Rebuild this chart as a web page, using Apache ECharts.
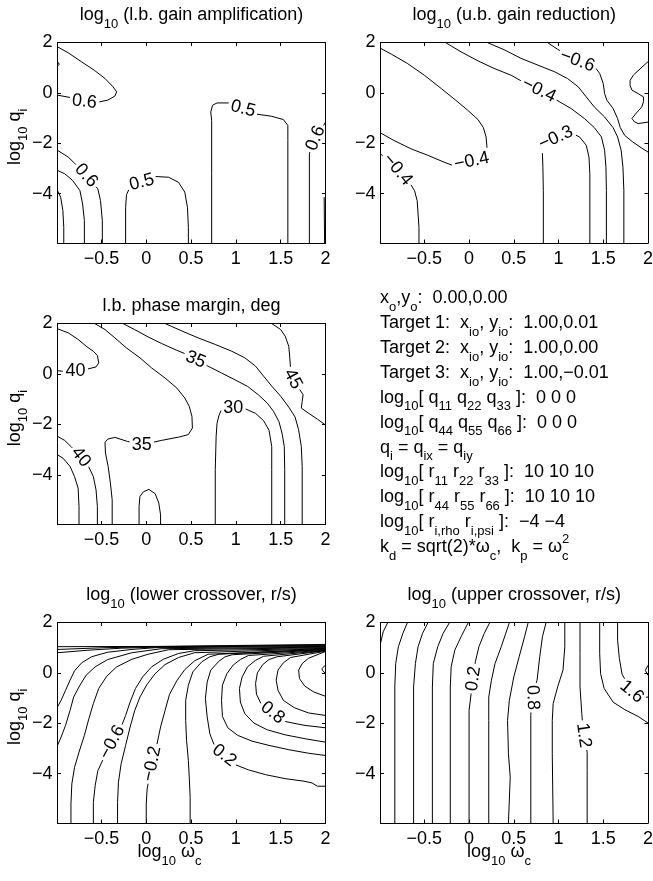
<!DOCTYPE html>
<html><head><meta charset="utf-8">
<script src="https://cdn.jsdelivr.net/npm/echarts@6/dist/echarts.min.js"></script>
<style>html,body{margin:0;padding:0;background:#fff}#c{width:653px;height:881px}</style>
</head><body><div id="c"></div>
<script>
// ---------------- data ----------------
const xTicks = [-0.5, 0, 0.5, 1, 1.5, 2];
const yTicks = [-4, -2, 0, 2];
const xRange = [-0.99, 2];
const yRange = [-5.96, 2];

// log10 (l.b. gain amplification)
const ampLines = [
  [[-0.99,1.83],[-0.87,1.59],[-0.72,1.23],[-0.58,0.90],[-0.46,0.57],[-0.37,0.24],[-0.33,0.04],[-0.35,-0.13],[-0.43,-0.29],[-0.54,-0.37],[-0.69,-0.36],[-0.84,-0.19],[-0.99,-0.09]],
  [[-0.99,-2.28],[-0.87,-2.55],[-0.80,-2.79],[-0.67,-3.28],[-0.54,-3.81],[-0.51,-4.28],[-0.49,-5.07],[-0.49,-5.96]],
  [[-0.99,-3.08],[-0.91,-3.21],[-0.82,-3.48],[-0.74,-3.88],[-0.71,-4.41],[-0.69,-5.07],[-0.69,-5.96]],
  [[-0.99,-3.88],[-0.955,-4.14],[-0.93,-4.67],[-0.92,-5.34],[-0.92,-5.96]],
  [[-0.23,-5.96],[-0.23,-4.54],[-0.22,-4.04],[-0.19,-3.81],[-0.06,-3.55],[0.10,-3.32],[0.25,-3.35],[0.36,-3.55],[0.43,-3.94],[0.46,-4.54],[0.47,-5.34],[0.47,-5.96]],
  [[0.73,-5.96],[0.73,-3.21],[0.73,-1.09],[0.72,-0.76],[0.74,-0.49],[0.79,-0.40],[0.92,-0.40],[1.08,-0.66],[1.24,-0.85],[1.40,-0.93],[1.53,-1.06],[1.58,-1.29],[1.58,-1.89],[1.58,-5.96]],
  [[1.82,-5.96],[1.82,-2.42],[1.83,-2.30],[1.89,-1.82],[1.98,-1.29],[2.0,-1.16]],
  [[1.985,-4.14],[1.99,-5.96]],
  [[-0.99,1.24],[-0.97,1.14],[-0.99,1.06]]
];
const ampLabels = [
  [-0.69,-0.35,'0.6',-6], [-0.67,-3.28,'0.6',-48], [-0.05,-3.55,'0.5',15],
  [1.08,-0.63,'0.5',-14], [1.89,-1.80,'0.6',68]
];

// log10 (u.b. gain reduction)
const redLines = [
  [[-0.99,1.77],[-0.87,1.54],[-0.69,1.17],[-0.50,0.70],[-0.31,0.17],[-0.15,-0.29],[-0.015,-0.69],[0.10,-1.06],[0.16,-1.38],[0.19,-1.75],[0.20,-2.15],[0.20,-2.48],[0.10,-2.62],[-0.05,-2.79],[-0.16,-2.91],[-0.28,-2.75],[-0.46,-2.48],[-0.65,-2.22],[-0.84,-1.89],[-0.99,-1.59]],
  [[-0.99,-2.42],[-0.94,-2.58],[-0.80,-3.05],[-0.66,-3.59],[-0.61,-3.88],[-0.58,-4.28],[-0.57,-4.81],[-0.56,-5.34],[-0.56,-5.96]],
  [[0.83,-5.96],[0.83,-3.88],[0.825,-2.95],[0.82,-2.42],[0.81,-2.15],[0.97,-1.79],[1.14,-1.59],[1.235,-1.75],[1.31,-2.08],[1.34,-2.55],[1.35,-3.21],[1.35,-5.96]],
  [[-0.26,1.99],[-0.09,1.63],[0.10,1.27],[0.28,0.97],[0.47,0.70],[0.58,0.48],[0.78,0.11],[0.97,-0.27],[1.14,-0.62],[1.29,-1.02],[1.40,-1.38],[1.48,-1.75],[1.515,-2.28],[1.53,-2.95],[1.535,-3.88],[1.535,-5.96]],
  [[0.21,1.99],[0.40,1.70],[0.58,1.37],[0.77,1.10],[0.955,0.84],[1.10,0.57],[1.22,0.24],[1.31,-0.16],[1.40,-0.56],[1.515,-0.96],[1.61,-1.38],[1.66,-1.75],[1.70,-2.28],[1.72,-2.95],[1.73,-3.88],[1.73,-5.96]],
  [[0.88,1.99],[0.99,1.73],[1.21,1.27],[1.40,1.06],[1.46,0.77],[1.50,0.37],[1.515,-0.03],[1.54,-0.29],[1.61,-0.62],[1.66,-1.02],[1.69,-1.38],[1.74,-1.69],[1.83,-1.95],[1.925,-2.18],[2.0,-2.35]],
  [[2.0,1.24],[1.92,0.98],[1.84,0.72],[1.80,0.50],[1.80,0.30],[1.82,0.11],[1.89,-0.03],[1.95,-0.16],[1.95,-0.35],[1.93,-0.56],[1.87,-0.80],[1.82,-1.02],[1.85,-1.15],[1.89,-1.22],[2.0,-1.16]]
];
const redLabels = [
  [0.03,-2.71,'\u22120.4',12], [-0.80,-3.05,'\u22120.4',-50], [0.97,-1.79,'\u22120.3',24],
  [0.78,0.11,'\u22120.4',-26], [1.21,1.27,'\u22120.6',-20]
];

// l.b. phase margin, deg
const pmLines = [
  [[-0.99,1.79],[-0.87,1.63],[-0.76,1.37],[-0.67,1.10],[-0.59,0.90],[-0.545,0.73],[-0.53,0.44],[-0.56,0.28],[-0.65,0.20],[-0.79,0.11],[-0.93,0.11],[-0.99,0.13]],
  [[-0.575,2.0],[-0.46,1.76],[-0.35,1.43],[-0.22,1.03],[-0.07,0.64],[0.06,0.24],[0.21,-0.16],[0.34,-0.55],[0.43,-0.95],[0.48,-1.28],[0.51,-1.68],[0.515,-2.14],[0.47,-2.40],[0.36,-2.50],[0.17,-2.63],[-0.05,-2.80],[-0.21,-2.67],[-0.35,-2.51],[-0.43,-2.58],[-0.46,-2.71],[-0.455,-3.13],[-0.425,-3.66],[-0.40,-4.32],[-0.38,-4.98],[-0.38,-5.96]],
  [[-0.99,-2.47],[-0.91,-2.63],[-0.84,-2.87],[-0.73,-3.29],[-0.63,-3.73],[-0.59,-4.06],[-0.56,-4.59],[-0.545,-5.25],[-0.545,-5.96]],
  [[-0.99,-3.20],[-0.93,-3.33],[-0.85,-3.66],[-0.80,-4.06],[-0.76,-4.52],[-0.75,-5.25],[-0.75,-5.96]],
  [[-0.08,-5.96],[-0.08,-5.25],[-0.07,-4.85],[-0.03,-4.66],[0.03,-4.57],[0.10,-4.74],[0.14,-5.11],[0.16,-5.58],[0.16,-5.96]],
  [[-0.26,2.0],[-0.13,1.76],[0.02,1.47],[0.17,1.21],[0.34,0.94],[0.43,0.81],[0.55,0.57],[0.69,0.31],[0.84,0.04],[0.99,-0.23],[1.13,-0.49],[1.25,-0.82],[1.35,-1.15],[1.42,-1.48],[1.48,-1.88],[1.515,-2.34],[1.54,-2.87],[1.545,-3.79],[1.545,-5.96]],
  [[0.21,2.0],[0.40,1.70],[0.58,1.43],[0.77,1.17],[0.955,0.90],[1.10,0.64],[1.22,0.31],[1.31,-0.09],[1.40,-0.48],[1.50,-0.88],[1.59,-1.31],[1.66,-1.70],[1.70,-2.21],[1.73,-2.87],[1.74,-3.66],[1.74,-5.96]],
  [[1.40,2.0],[1.50,1.76],[1.55,1.50],[1.59,1.10],[1.60,0.71],[1.61,0.24],[1.63,-0.20],[1.71,-0.60],[1.75,-0.82],[1.74,-1.09],[1.73,-1.35],[1.81,-1.55],[1.91,-1.79],[2.0,-2.02]],
  [[0.77,-5.96],[0.77,-3.79],[0.78,-2.47],[0.79,-1.95],[0.81,-1.66],[0.84,-1.40],[0.97,-1.32],[1.10,-1.37],[1.22,-1.56],[1.31,-1.85],[1.37,-2.23],[1.40,-2.87],[1.40,-3.79],[1.40,-5.96]]
];
const pmLabels = [
  [-0.79,0.11,'40',0], [-0.05,-2.80,'35',0], [-0.73,-3.29,'40',-52],
  [0.55,0.57,'35',-22], [1.635,-0.20,'45',-62], [0.97,-1.33,'30',0]
];

// log10 (lower crossover, r/s)
const loLines = [
  [[-0.99,1.04],[0.10,1.05],[2.0,1.13]],
  [[-0.99,0.93],[-0.46,1.00],[0.10,1.04],[2.0,1.10]],
  [[-0.99,0.80],[-0.65,0.90],[-0.28,0.98],[0.10,1.02],[2.0,1.08]],
  [[-0.99,-1.35],[-0.95,-1.09],[-0.90,-0.69],[-0.85,-0.29],[-0.80,0.08],[-0.72,0.40],[-0.61,0.64],[-0.43,0.82],[-0.16,0.93],[0.10,1.00],[2.0,1.05]],
  [[-0.99,-2.88],[-0.95,-2.55],[-0.90,-2.08],[-0.85,-1.49],[-0.81,-0.96],[-0.74,-0.49],[-0.67,-0.09],[-0.57,0.24],[-0.43,0.53],[-0.16,0.80],[0.17,0.96],[2.0,1.02]],
  [[-0.84,-5.96],[-0.84,-5.21],[-0.83,-4.41],[-0.80,-3.75],[-0.75,-3.15],[-0.69,-2.48],[-0.64,-1.82],[-0.59,-1.22],[-0.53,-0.62],[-0.44,-0.13],[-0.33,0.24],[-0.16,0.54],[0.02,0.74],[0.25,0.92],[2.0,1.00]],
  [[-0.59,-5.96],[-0.59,-5.14],[-0.57,-4.48],[-0.54,-3.88],[-0.46,-3.28],[-0.37,-2.71],[-0.28,-2.15],[-0.23,-1.69],[-0.18,-1.16],[-0.12,-0.62],[-0.04,-0.16],[0.06,0.24],[0.19,0.54],[0.36,0.77],[0.54,0.88],[2.0,0.97]],
  [[-0.32,-5.96],[-0.32,-5.14],[-0.31,-4.34],[-0.28,-3.61],[-0.23,-2.88],[-0.18,-2.15],[-0.13,-1.51],[-0.07,-0.96],[0.01,-0.45],[0.10,-0.03],[0.21,0.33],[0.36,0.61],[0.54,0.80],[2.0,0.96]],
  [[0.0,-5.96],[0.0,-5.21],[0.01,-4.61],[0.04,-4.01],[0.07,-3.48],[0.12,-2.82],[0.16,-2.15],[0.21,-1.49],[0.26,-0.85],[0.34,-0.32],[0.43,0.13],[0.54,0.48],[0.69,0.74],[2.0,0.94]],
  [[0.49,-5.96],[0.49,-4.94],[0.48,-4.14],[0.47,-3.48],[0.45,-2.68],[0.44,-1.89],[0.44,-1.09],[0.47,-0.49],[0.52,0.04],[0.62,0.44],[0.71,0.64],[0.81,0.74],[2.0,0.93]],
  [[2.0,-4.50],[1.91,-4.50],[1.85,-4.37],[1.76,-4.30],[1.55,-4.20],[1.33,-4.04],[1.14,-3.85],[0.99,-3.64],[0.76,-2.88],[0.71,-2.42],[0.68,-1.75],[0.66,-1.02],[0.68,-0.36],[0.72,0.11],[0.81,0.46],[0.88,0.64],[0.96,0.72],[2.0,0.92]],
  [[2.0,-3.28],[1.81,-3.19],[1.59,-3.05],[1.37,-2.88],[1.18,-2.71],[1.02,-2.48],[0.91,-2.18],[0.85,-1.73],[0.84,-1.09],[0.85,-0.49],[0.90,-0.03],[0.97,0.31],[1.05,0.53],[1.14,0.69],[2.0,0.90]],
  [[2.0,-2.75],[1.78,-2.62],[1.55,-2.46],[1.35,-2.26],[1.20,-1.99],[1.10,-1.62],[1.05,-1.16],[1.04,-0.62],[1.07,-0.16],[1.13,0.24],[1.22,0.50],[1.31,0.66],[2.0,0.89]],
  [[2.0,-2.18],[1.76,-2.08],[1.55,-1.93],[1.28,-1.22],[1.23,-0.85],[1.22,-0.42],[1.24,0.0],[1.30,0.33],[1.37,0.53],[1.46,0.64],[2.0,0.88]],
  [[2.0,-1.69],[1.81,-1.59],[1.65,-1.38],[1.53,-1.09],[1.47,-0.69],[1.45,-0.29],[1.47,0.11],[1.53,0.40],[1.61,0.61],[2.0,0.86]],
  [[2.0,-0.93],[1.87,-0.76],[1.77,-0.53],[1.71,-0.23],[1.70,0.11],[1.74,0.37],[1.81,0.58],[2.0,0.85]],
  [[2.0,0.31],[1.96,0.17],[1.97,0.08],[2.0,-0.03]]
];
const loLabels = [
  [-0.38,-2.75,'\u22120.6',62], [0.065,-3.61,'\u22120.2',78],
  [0.87,-3.28,'0.2',-38], [1.41,-1.58,'0.8',-38]
];

// log10 (upper crossover, r/s)
const hiLines = [
  [[-0.91,1.99],[-0.96,1.63],[-0.99,1.17]],
  [[-0.69,1.99],[-0.74,1.57],[-0.79,1.04],[-0.82,0.37],[-0.83,-0.56],[-0.83,-5.96]],
  [[-0.46,1.99],[-0.52,1.57],[-0.57,1.04],[-0.60,0.37],[-0.62,-0.56],[-0.62,-5.96]],
  [[-0.22,1.99],[-0.29,1.57],[-0.35,1.04],[-0.40,0.37],[-0.41,-0.56],[-0.41,-5.96]],
  [[-0.01,1.99],[-0.09,1.43],[-0.16,0.90],[-0.20,0.24],[-0.21,-0.56],[-0.21,-5.96]],
  [[0.23,1.99],[0.17,1.57],[0.11,1.04],[0.07,0.44],[0.05,-0.23],[0.02,-0.89],[0.0,-1.49],[0.0,-2.15],[0.0,-5.96]],
  [[0.45,1.99],[0.41,1.57],[0.36,1.04],[0.29,0.37],[0.25,-0.29],[0.22,-0.96],[0.22,-1.89],[0.22,-5.96]],
  [[0.66,1.99],[0.62,1.43],[0.56,0.64],[0.50,-0.16],[0.45,-1.09],[0.43,-1.89],[0.44,-3.21],[0.46,-4.14],[0.44,-5.96]],
  [[0.86,1.99],[0.82,1.43],[0.79,0.64],[0.76,-0.29],[0.70,-0.98],[0.69,-1.69],[0.69,-5.96]],
  [[1.07,1.99],[1.07,1.04],[1.05,0.11],[0.99,-0.56],[0.94,-1.22],[0.93,-1.89],[0.93,-3.21],[0.94,-5.96]],
  [[1.24,1.99],[1.24,0.77],[1.24,-0.56],[1.26,-1.62],[1.28,-2.48],[1.32,-3.15],[1.32,-3.88],[1.32,-5.96]],
  [[1.46,1.99],[1.46,0.77],[1.47,-0.03],[1.51,-0.62],[1.61,-1.16],[1.74,-1.46],[1.89,-1.73],[2.0,-1.99]],
  [[1.66,1.99],[1.66,1.30],[1.68,0.57],[1.71,-0.05],[1.82,-0.76],[1.94,-0.98],[2.0,-0.96]],
  [[2.0,0.30],[1.97,0.10],[2.0,-0.10]]
];
const hiLabels = [
  [0.05,-0.23,'0.2',82], [0.71,-0.98,'0.8',-88], [1.28,-2.48,'1.2',-82], [1.82,-0.75,'1.6',-40]
];

// texts
const titles = ['log_{10} (l.b. gain amplification)', 'log_{10} (u.b. gain reduction)', 'l.b. phase margin, deg', 'log_{10} (lower crossover, r/s)', 'log_{10} (upper crossover, r/s)'];
const yName = 'log_{10} q_{i}';
const xName = 'log_{10} \u03c9_{c}';
const infoLines = [
  'x_{o},y_{o}:  0.00,0.00',
  'Target 1:  x_{io}, y_{io}:  1.00,0.01',
  'Target 2:  x_{io}, y_{io}:  1.00,0.00',
  'Target 3:  x_{io}, y_{io}:  1.00,\u22120.01',
  'log_{10}[ q_{11} q_{22} q_{33} ]:  0 0 0',
  'log_{10}[ q_{44} q_{55} q_{66} ]:  0 0 0',
  'q_{i} = q_{ix} = q_{iy}',
  'log_{10}[ r_{11} r_{22} r_{33} ]:  10 10 10',
  'log_{10}[ r_{44} r_{55} r_{66} ]:  10 10 10',
  'log_{10}[ r_{i,rho} r_{i,psi} ]:  \u22124 \u22124',
  'k_{d} = sqrt(2)*\u03c9_{c},  k_{p} = \u03c9_{c}^{2}'
];

// ---------------- layout / rendering ----------------
const FONT = '"Liberation Sans", Arial, Helvetica, sans-serif';
const FS = 18, SUB = 13;
const layout = [
  {left:57.5, top:42.5, width:268, height:200.5, titleY:15, ylab:true, xlab:null},
  {left:380.5, top:42.5, width:267.5, height:200.5, titleY:15, ylab:false, xlab:null},
  {left:57.5, top:323.5, width:268, height:201, titleY:306.3, ylab:true, xlab:null},
  {left:57.5, top:622.5, width:268, height:200.5, titleY:595, ylab:true, xlab:169.5},
  {left:380.5, top:622.5, width:267.5, height:200.5, titleY:595, ylab:false, xlab:499}
];
const panelLines = [ampLines, redLines, pmLines, loLines, hiLines];
const panelLabels = [ampLabels, redLabels, pmLabels, loLabels, hiLabels];

const mctx = document.createElement('canvas').getContext('2d');
function tw(s, size){ mctx.font = size + 'px ' + FONT; return mctx.measureText(s).width; }
function parseTex(str){
  const out=[]; let i=0, buf='';
  while(i<str.length){
    const c=str[i];
    if((c==='_'||c==='^') && str[i+1]==='{'){
      if(buf){out.push({t:buf,k:'n'}); buf='';}
      const j=str.indexOf('}',i);
      out.push({t:str.slice(i+2,j),k:c==='_'?'s':'p'});
      i=j+1;
    } else {buf+=c; i++;}
  }
  if(buf) out.push({t:buf,k:'n'});
  return out;
}
function texGroup(str, x, y, anchor, rotation){
  const parts=parseTex(str);
  let cx=0, subStart=0, subW=0; const ch=[];
  parts.forEach((p,idx)=>{
    const fs = p.k==='n'?FS:SUB;
    const w = tw(p.t, fs);
    let px=cx;
    if(p.k==='p' && idx>0 && parts[idx-1].k==='s'){ px=subStart; cx=subStart+Math.max(subW,w); }
    else { if(p.k==='s'){subStart=cx; subW=w;} cx+=w; }
    const dy = p.k==='s'?9:(p.k==='p'?-7.5:0);
    ch.push({type:'text', x:px, y:dy, silent:true, style:{text:p.t, fill:'#000', fontSize:fs, fontFamily:FONT, align:'left', verticalAlign:'middle'}});
  });
  if(anchor==='center'){ ch.forEach(c=>{c.x-=cx/2;}); }
  return {type:'group', x:x, y:y, rotation:rotation||0, silent:true, children:ch};
}

const fmt = v => (v<0 ? '\u2212'+String(-v) : String(v));
const grids=[], xAxes=[], yAxes=[], graphics=[];
layout.forEach((g,i)=>{
  grids.push({left:g.left, top:g.top, width:g.width, height:g.height, containLabel:false, outerBoundsMode:'none'});
  const line={show:true, onZero:false, lineStyle:{color:'#000', width:1}};
  const tx={show:true, inside:true, length:3.5, customValues:xTicks, lineStyle:{color:'#000', width:1}};
  const ty={show:true, inside:true, length:3.5, customValues:yTicks, lineStyle:{color:'#000', width:1}};
  const lab={show:true, color:'#000', fontSize:FS, fontFamily:FONT, formatter:fmt};
  xAxes.push({gridIndex:i, type:'value', position:'bottom', min:xRange[0], max:xRange[1], axisLine:line, axisTick:tx, axisLabel:Object.assign({}, lab, {customValues:xTicks, margin:7}), splitLine:{show:false}});
  xAxes.push({gridIndex:i, type:'value', position:'top', min:xRange[0], max:xRange[1], axisLine:line, axisTick:tx, axisLabel:{show:false}, splitLine:{show:false}});
  yAxes.push({gridIndex:i, type:'value', position:'left', min:yRange[0], max:yRange[1], axisLine:line, axisTick:ty, axisLabel:Object.assign({}, lab, {customValues:yTicks, margin:5}), splitLine:{show:false}});
  yAxes.push({gridIndex:i, type:'value', position:'right', min:yRange[0], max:yRange[1], axisLine:line, axisTick:ty, axisLabel:{show:false}, splitLine:{show:false}});
  graphics.push(texGroup(titles[i], g.left+g.width/2, g.titleY, 'center', 0));
  if(g.ylab) graphics.push(texGroup(yName, 14.8, g.top+g.height/2-6, 'center', Math.PI/2));
  if(g.xlab!=null) graphics.push(texGroup(xName, g.xlab, 852, 'center', 0));
});
infoLines.forEach((s,i)=>{ graphics.push(texGroup(s, 380, 298.5+24.85*i, 'left', 0)); });

function labelSeries(labels, i){
  return {type:'scatter', xAxisIndex:2*i, yAxisIndex:2*i, symbolSize:1, silent:true, animation:false, z:5,
    itemStyle:{color:'rgba(0,0,0,0)'},
    label:{show:true, position:'inside', color:'#000', fontSize:FS, fontFamily:FONT, textBorderWidth:0, textShadowBlur:0, opacity:1},
    data: labels.map(l=>({value:[l[0],l[1]], label:{formatter:l[2], rotate:l[3]}}))};
}

const chart = echarts.init(document.getElementById('c'), null, {renderer:'canvas', width:653, height:881});
chart.setOption({
  animation:false, backgroundColor:'#fff', textStyle:{fontFamily:FONT},
  grid:grids, xAxis:xAxes, yAxis:yAxes, graphic:{elements:graphics},
  series: panelLabels.map((l,i)=>labelSeries(l,i))
});

function segDist(c,a,b){
  const dx=b[0]-a[0], dy=b[1]-a[1]; const L=dx*dx+dy*dy;
  let t = L>0 ? ((c[0]-a[0])*dx+(c[1]-a[1])*dy)/L : 0; t=Math.max(0,Math.min(1,t));
  const px=a[0]+t*dx-c[0], py=a[1]+t*dy-c[1]; return Math.sqrt(px*px+py*py);
}
function segCircle(a,b,c,r){
  const dx=b[0]-a[0], dy=b[1]-a[1], fx=a[0]-c[0], fy=a[1]-c[1];
  const A=dx*dx+dy*dy, B=2*(fx*dx+fy*dy), C=fx*fx+fy*fy-r*r;
  if(A===0) return null;
  const disc=B*B-4*A*C; if(disc<=0) return null;
  const s=Math.sqrt(disc); const lo=Math.max(0,(-B-s)/(2*A)), hi=Math.min(1,(-B+s)/(2*A));
  return lo<hi ? [lo,hi] : null;
}
function cutLines(lines, labels, gi){
  const toPx = p => chart.convertToPixel({gridIndex:gi}, p);
  const pix = lines.map(l=>l.map(toPx));
  const cuts = lines.map(()=>[]);
  labels.forEach(lb=>{
    const c=toPx([lb[0],lb[1]]); let best=-1, bd=Infinity;
    pix.forEach((pl,li)=>{ for(let k=0;k<pl.length-1;k++){ const d=segDist(c,pl[k],pl[k+1]); if(d<bd){bd=d;best=li;} } });
    if(best>=0) cuts[best].push({c:c, r:tw(lb[2],FS)/2+2.5});
  });
  const frags=[];
  lines.forEach((l,li)=>{
    let cur=[];
    for(let k=0;k<l.length-1;k++){
      const a=l[k], b=l[k+1];
      const iv=[]; cuts[li].forEach(cc=>{ const r=segCircle(pix[li][k],pix[li][k+1],cc.c,cc.r); if(r) iv.push(r); });
      iv.sort((p,q)=>p[0]-q[0]);
      const pieces=[]; let t=0;
      iv.forEach(r=>{ if(r[0]>t) pieces.push([t,r[0]]); t=Math.max(t,r[1]); });
      if(t<1) pieces.push([t,1]);
      if(pieces.length===0){ if(cur.length>1) frags.push(cur); cur=[]; continue; }
      const P = t0 => [a[0]+(b[0]-a[0])*t0, a[1]+(b[1]-a[1])*t0];
      pieces.forEach(pc=>{
        if(pc[0]>0 || cur.length===0){ if(cur.length>1) frags.push(cur); cur=[P(pc[0])]; }
        cur.push(P(pc[1]));
        if(pc[1]<1){ frags.push(cur); cur=[]; }
      });
    }
    if(cur.length>1) frags.push(cur);
  });
  return frags;
}

const series=[];
panelLines.forEach((lines,i)=>{
  cutLines(lines, panelLabels[i], i).forEach(f=>{
    series.push({type:'line', xAxisIndex:2*i, yAxisIndex:2*i, data:f, symbol:'none', showSymbol:false, silent:true, animation:false, z:2,
      lineStyle:{color:'#000', width:1}, emphasis:{disabled:true}});
  });
  series.push(labelSeries(panelLabels[i], i));
});
chart.setOption({series:series}, {replaceMerge:['series']});
</script>
</body></html>
